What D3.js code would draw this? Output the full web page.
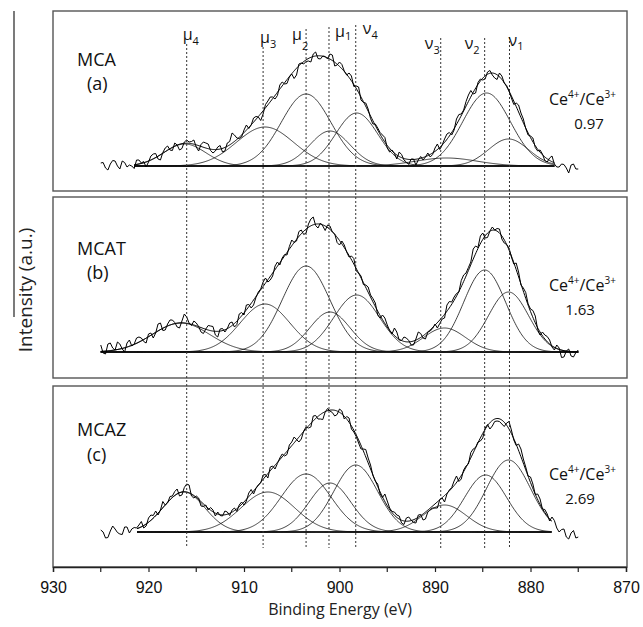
<!DOCTYPE html>
<html>
<head>
<meta charset="utf-8">
<script src="https://cdn.jsdelivr.net/npm/d3@7"></script>
<style>
body { margin: 0; background: #fff; }
</style>
</head>
<body>
<div id="chart"></div>
<script>
// measured spectra run from 925 down to 875 eV in 0.25 eV steps
var energyStart = 925;
var energyStep = 0.25;

var samples = ["MCA", "MCAT", "MCAZ"];
var sampleTags = ["(a)", "(b)", "(c)"];
var ratios = ["0.97", "1.63", "2.69"];

// Ce 3d peak labels and the energies of the dotted guide lines
var peakSymbols = ["\u03bc", "\u03bc", "\u03bc", "\u03bc", "\u03bd", "\u03bd", "\u03bd", "\u03bd"];
var peakIndices = ["4", "3", "2", "1", "4", "3", "2", "1"];
var peakEnergies = [916.0, 908.0, 903.5, 901.1, 898.3, 889.4, 884.8, 882.2];

var xTicks = [930, 920, 910, 900, 890, 880, 870];
var xMinorTicks = [925, 915, 905, 895, 885, 875];

// raw counts (a.u.)
var spectrumMCA = [3, 3.5, -2, -4, 2, 5.5, 5, 0, -3, 5, 3.5, -1, 1, 0, -2.5, 6, 6, 3, 4.5, -1,
    4, 10, 12, 12.5, 7, 6, 13.5, 18, 20, 16, 15.5, 23, 21, 16, 17.5, 24, 26, 24, 24.5, 26,
    19, 15, 21.5, 24, 23, 22, 15.5, 13, 15, 19, 20.5, 14, 15, 23, 24.5, 33, 31, 28, 27.5, 29,
    36, 41, 37.5, 41, 48, 49.5, 49, 45.5, 52, 61.5, 65, 69, 69, 67, 70.5, 81, 84, 82, 82.5, 89,
    92, 87.5, 91, 102, 103, 102, 104.5, 105, 104, 112, 114, 107.5, 107, 110, 109.5, 107, 112, 111, 100, 101,
    104, 101.5, 95, 91, 93, 90, 79.5, 80, 79, 66, 63.5, 63, 57, 47.5, 42, 42, 38, 33.5, 31, 28.5,
    18, 14, 16, 12.5, 7, 14, 11.5, 6, 4, 1.5, 7, 7, 1, 6, 9.5, 6, 9, 13, 9, 11.5,
    18, 22, 16.5, 21, 27, 32, 33.5, 31, 36, 47, 51.5, 52, 56, 64.5, 71, 75.5, 72, 73, 83.5, 87,
    86, 87, 94, 95.5, 91, 88, 86.5, 93, 90, 83, 80.5, 75, 68, 61.5, 63, 61, 53, 47, 37.5, 31,
    30, 28, 18.5, 15, 16, 12, 5.5, 4, 8, 10, 2, -1, -1, 2, 1.5, -2, -7, 1, 2, -3, -3];
var spectrumMCAT = [7, -1, -2, 8, 9, 4, 2, 10, 8, 3, 0, 9, 12, 6, 8, 14, 15, 14, 10.5, 9,
    18, 19, 14, 19, 28, 29, 21.5, 22, 28, 32, 32, 29.5, 25, 24, 31, 38, 35, 29, 26.5, 31,
    29, 25.5, 20, 18.5, 23, 26.5, 26, 25.5, 17, 15, 23, 23.5, 20, 23.5, 29, 30, 25, 27.5, 38, 39.5,
    37, 47, 47.5, 44, 47, 54.5, 60, 63, 70, 74, 70, 72, 76, 86, 90, 87, 94, 97.5, 97, 105.5,
    112, 109.5, 111, 120.5, 122, 117.5, 119, 128, 133, 135, 126.5, 124, 129, 126, 121.5, 127, 126, 120, 118, 109.5,
    107, 111, 107, 100, 95, 96, 93.5, 81, 79, 76, 67.5, 67, 65, 57, 53.5, 49, 37, 34, 37, 34,
    27, 21.5, 18, 24, 20, 12, 11.5, 15, 14, 11.5, 7, 7, 13, 20, 18.5, 14, 13, 20, 21, 23.5,
    28, 24, 28.5, 33, 34, 47, 50.5, 50, 55, 58.5, 60, 71.5, 77, 79, 84.5, 90, 103, 106, 104.5, 116,
    119, 114, 114.5, 121, 125, 122, 123.5, 123, 113, 109, 107.5, 104, 95, 88, 89, 80, 67, 64, 59.5, 48,
    43, 41.5, 36, 22.5, 17, 20, 17, 15.5, 12, 5, 2, 7, 4, -5.5, -5, 1, 3, -4, -5, -0.5, 2];
var spectrumMCAZ = [2, 0, -6, -5.5, 1, 6, 3, -0.5, -2, -2.5, 5, 5, -1, 3, 4.5, 4, 7, 10.5, 4, 6,
    14, 17, 16.5, 21, 17, 22, 30.5, 27, 29, 35.5, 36, 40.5, 43, 36, 37, 44.5, 48, 47, 36, 34,
    36, 34, 26, 25.5, 27, 22, 24.5, 22, 16, 20, 16.5, 16, 21, 20, 16.5, 22, 24, 20.5, 27, 30,
    27, 31, 39, 42.5, 38, 43.5, 47, 49, 57, 57.5, 54, 65, 66, 63, 68.5, 74, 78, 76, 77.5, 87,
    90, 95, 92.5, 90, 93, 101, 105, 104, 105, 116, 116.5, 113, 113, 112.5, 120, 123.5, 121, 119.5, 116, 117.5,
    123, 121, 113, 115.5, 114, 103, 100, 95.5, 89, 83, 83, 82.5, 74, 67, 56.5, 51, 48, 38, 34.5, 38,
    31, 24, 20.5, 20, 17, 16, 9, 7.5, 14, 15, 12, 9.5, 9, 17, 17.5, 12, 13, 20, 22.5, 24,
    24, 24, 32.5, 34, 30, 38, 42, 44.5, 51, 56, 50.5, 53, 62, 66, 68, 79.5, 83, 84.5, 90, 91,
    94, 104, 107.5, 103, 106, 110.5, 111, 110.5, 108, 105.5, 109, 110.5, 102, 92, 86.5, 88, 83, 73, 65, 56,
    55, 48, 37.5, 38, 33, 23, 22.5, 18, 11, 15, 11.5, 4, 0, 2.5, 3, -5, -7, -1, 1.5, -6, -5];

// fitted Gaussian components (order u4 u3 u2 u1 v4 v3 v2 v1): centre eV, height, sigma eV
var centresMCA = [916.2, 907.8, 903.5, 901.0, 898.2, 888.8, 884.6, 882.3];
var heightsMCA = [22, 39, 72, 35, 53, 8, 73, 27];
var sigmasMCA = [2.2, 3.0, 2.6, 2.1, 2.2, 3.2, 2.5, 2.1];

var centresMCAT = [916.6, 907.8, 903.5, 901.0, 898.2, 889.0, 884.8, 882.3];
var heightsMCAT = [29, 48, 86, 40, 57, 24, 82, 60];
var sigmasMCAT = [3.0, 2.6, 2.5, 2.1, 2.4, 2.2, 2.2, 2.1];

var centresMCAZ = [916.3, 907.5, 903.5, 901.0, 898.3, 889.0, 884.7, 882.3];
var heightsMCAZ = [40, 40, 58, 49, 67, 27, 57, 72];
var sigmasMCAZ = [2.2, 2.8, 2.6, 2.2, 2.3, 2.3, 2.2, 2.3];

// energy span of the linear background used in each fit
var fitStart = [921.5, 925, 921.2];
var fitEnd = [877.5, 875, 877.8];

var panels = [
    {spectrum: spectrumMCA, centres: centresMCA, heights: heightsMCA, sigmas: sigmasMCA},
    {spectrum: spectrumMCAT, centres: centresMCAT, heights: heightsMCAT, sigmas: sigmasMCAT},
    {spectrum: spectrumMCAZ, centres: centresMCAZ, heights: heightsMCAZ, sigmas: sigmasMCAZ}
];

var width = 643;
var height = 627;
var left = 53, right = 627;
var panelTop = [11, 197, 386];
var panelBottom = [191, 378, 567];
var baseY = [166, 352, 532];
var nameDy = [55, 58, 50];
var tagDy = [79, 82, 75];
var ratioX = [589, 580, 580];
var ceX = [549, 549, 549];

var svg = d3.select("#chart").append("svg")
    .attr("width", width)
    .attr("height", height)
    .style("font-family", "'Open Sans', sans-serif");

var x = d3.scaleLinear().domain([930, 870]).range([53, 626]);

var line = d3.line()
    .x(function(d) { return x(d[0]); })
    .y(function(d) { return d[1]; });

// panels
panels.forEach(function(p, i) {
    var y = d3.scaleLinear().domain([0, 100]).range([baseY[i], baseY[i] - 100]);
    var g = svg.append("g");

    g.append("rect")
        .attr("x", left)
        .attr("y", panelTop[i])
        .attr("width", right - left)
        .attr("height", panelBottom[i] - panelTop[i])
        .attr("fill", "none")
        .attr("stroke", "#555")
        .attr("stroke-width", 1.4);

    // background line
    g.append("path")
        .attr("d", line([[fitStart[i], y(0)], [fitEnd[i], y(0)]]))
        .attr("fill", "none")
        .attr("stroke", "#111")
        .attr("stroke-width", 0.9);

    // sample the fitted components on a fine grid
    var grid = d3.range(fitStart[i], fitEnd[i] - 0.001, -0.1);
    var envelope = grid.map(function() { return 0; });
    p.centres.forEach(function(c, j) {
        var h = p.heights[j], s = p.sigmas[j];
        var pts = grid.map(function(e, k) {
            var v = h * Math.exp(-(e - c) * (e - c) / (2 * s * s));
            envelope[k] += v;
            return [e, y(v)];
        });
        g.append("path")
            .attr("d", line(pts))
            .attr("fill", "none")
            .attr("stroke", "#111")
            .attr("stroke-width", 0.8);
    });

    g.append("path")
        .attr("d", line(grid.map(function(e, k) { return [e, y(envelope[k])]; })))
        .attr("fill", "none")
        .attr("stroke", "#000")
        .attr("stroke-width", 1);

    // measured spectrum
    g.append("path")
        .attr("d", line(p.spectrum.map(function(v, k) { return [energyStart - k * energyStep, y(v)]; })))
        .attr("fill", "none")
        .attr("stroke", "#000")
        .attr("stroke-width", 1);

    // sample name
    g.append("text")
        .attr("x", 77)
        .attr("y", panelTop[i] + nameDy[i])
        .attr("font-size", "18px")
        .attr("fill", "#111")
        .text(samples[i]);
    g.append("text")
        .attr("x", 87)
        .attr("y", panelTop[i] + tagDy[i])
        .attr("font-size", "18px")
        .attr("fill", "#111")
        .text(sampleTags[i]);

    // Ce4+/Ce3+ ratio
    var ct = g.append("text")
        .attr("x", ceX[i])
        .attr("y", panelTop[i] + 94)
        .attr("font-size", "16px")
        .attr("fill", "#111");
    ct.append("tspan").text("Ce");
    ct.append("tspan").attr("font-size", "10px").attr("dy", -7).text("4+");
    ct.append("tspan").attr("dy", 7).text("/Ce");
    ct.append("tspan").attr("font-size", "10px").attr("dy", -7).text("3+");
    g.append("text")
        .attr("x", ratioX[i])
        .attr("y", panelTop[i] + 118)
        .attr("text-anchor", "middle")
        .attr("font-size", "15px")
        .attr("fill", "#111")
        .text(ratios[i]);
});

// dotted guide lines and their labels
var lineTop = [44, 47, 29, 27, 25, 38, 38, 37];
var labelDx = [-4, -3, -14, 6, 7, -16, -20, -1];
var labelY = [40, 43, 40, 37, 34, 49, 49, 46];
var subDy = [5, 5, 10, 3, 5, 5, 5, 4];

peakEnergies.forEach(function(e, j) {
    svg.append("line")
        .attr("x1", x(e)).attr("x2", x(e))
        .attr("y1", lineTop[j]).attr("y2", 548)
        .attr("stroke", "#333")
        .attr("stroke-width", 1)
        .attr("stroke-dasharray", "2,2");
    var t = svg.append("text")
        .attr("x", x(e) + labelDx[j])
        .attr("y", labelY[j])
        .attr("font-size", "16px")
        .attr("fill", "#111");
    t.append("tspan").text(peakSymbols[j]);
    t.append("tspan").attr("font-size", "11px").attr("dy", subDy[j]).text(peakIndices[j]);
});

// x axis
var axis = svg.append("g")
    .attr("transform", "translate(0," + panelBottom[2] + ")")
    .call(d3.axisBottom(x).tickValues(xTicks).tickSize(5).tickPadding(10).tickFormat(d3.format("d")));
axis.select(".domain").attr("stroke", "#222").attr("stroke-width", 1.4);
axis.selectAll(".tick line").attr("stroke", "#222").attr("stroke-width", 1.2);
axis.selectAll("text")
    .attr("font-family", "'Liberation Sans', Arial, sans-serif")
    .attr("font-size", "16px")
    .attr("fill", "#111");

svg.append("g")
    .attr("transform", "translate(0," + panelBottom[2] + ")")
    .selectAll("line")
    .data(xMinorTicks)
    .enter().append("line")
    .attr("x1", function(d) { return x(d); })
    .attr("x2", function(d) { return x(d); })
    .attr("y1", 1)
    .attr("y2", 5)
    .attr("stroke", "#222")
    .attr("stroke-width", 1.2);

svg.append("text")
    .attr("x", 340)
    .attr("y", 615)
    .attr("text-anchor", "middle")
    .attr("font-size", "16px")
    .attr("fill", "#222")
    .text("Binding Energy (eV)");

// y title with the stray axis stroke beside it
svg.append("line")
    .attr("x1", 14).attr("x2", 14)
    .attr("y1", 11).attr("y2", 317)
    .attr("stroke", "#222")
    .attr("stroke-width", 1.2);
svg.append("text")
    .attr("transform", "translate(32,290) rotate(-90)")
    .attr("text-anchor", "middle")
    .attr("font-size", "19px")
    .attr("fill", "#222")
    .text("Intensity (a.u.)");
</script>
</body>
</html>
